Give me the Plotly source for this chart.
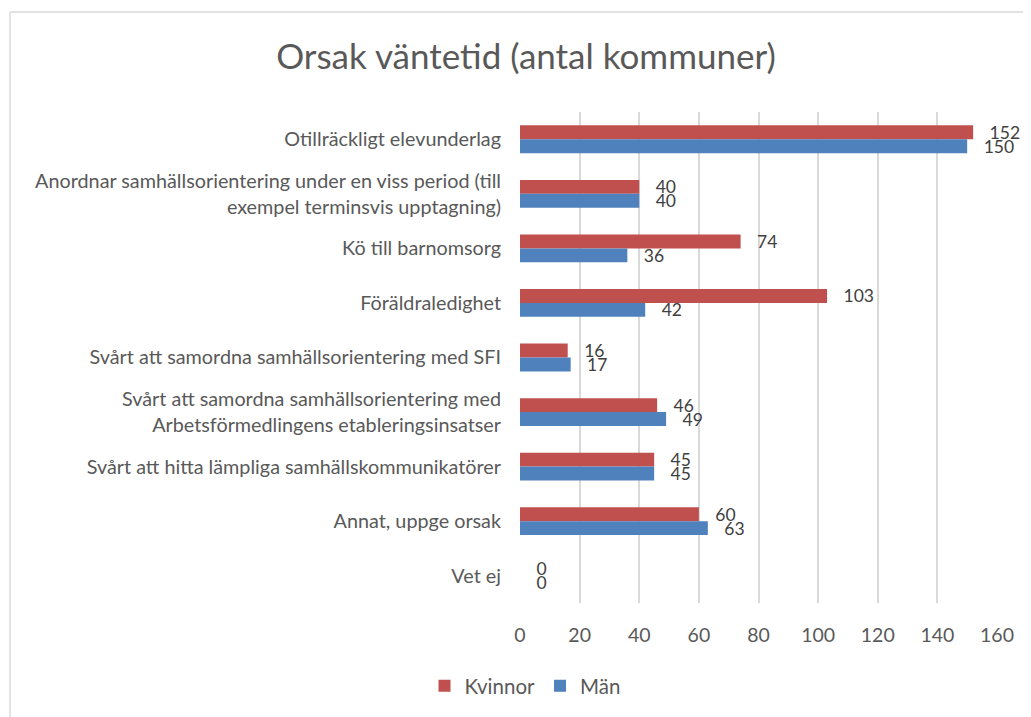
import plotly.graph_objects as go

categories = [
    "Otillräckligt elevunderlag",
    "Anordnar samhällsorientering under en viss period (till<br>exempel terminsvis upptagning)",
    "Kö till barnomsorg",
    "Föräldraledighet",
    "Svårt att samordna samhällsorientering med SFI",
    "Svårt att samordna samhällsorientering med<br>Arbetsförmedlingens etableringsinsatser",
    "Svårt att hitta lämpliga samhällskommunikatörer",
    "Annat, uppge orsak",
    "Vet ej",
]
kvinnor = [152, 40, 74, 103, 16, 46, 45, 60, 0]
man = [150, 40, 36, 42, 17, 49, 45, 63, 0]
x_ticks = [0, 20, 40, 60, 80, 100, 120, 140, 160]

FONT = "Lato"
GRAY = "#595959"
LABEL = "#404040"

# page body has an 8px margin; figure is sized/positioned to compensate
OFF = 8
W, H = 1031 - OFF, 717 - OFF
L, R, T, B = 520 - OFF, 34, 112 - OFF, 114
pw, ph = W - L - R, H - T - B

fig = go.Figure()
for name, vals, col in [("Kvinnor", kvinnor, "#C0504D"), ("Män", man, "#4F81BD")]:
    fig.add_trace(go.Bar(
        name=name, y=categories, x=vals, orientation="h",
        marker=dict(color=col, line=dict(width=0)),
        text=vals, texttemplate="   %{x}", textposition="outside",
        constraintext="none",
        textfont=dict(family=FONT, size=17.5, color=LABEL), cliponaxis=False,
    ))

def px_x(p):
    return (p - OFF - L) / pw

def px_y(p):
    return (H - B - (p - OFF)) / ph

fig.update_layout(
    width=W, height=H,
    margin=dict(l=L, r=R, t=T, b=B),
    paper_bgcolor="white", plot_bgcolor="white",
    barmode="group", bargap=0.49, bargroupgap=0,
    title=dict(text="Orsak väntetid (antal kommuner)", x=(526 - OFF) / W, xref="container",
               y=1 - (57 - OFF) / H, yref="container", xanchor="center", yanchor="middle",
               font=dict(family=FONT, size=35, color=GRAY)),
    font=dict(family=FONT, color=GRAY),
    legend=dict(orientation="h", x=(525 - OFF) / W, xref="container", xanchor="center",
                y=1 - (686 - OFF) / H, yref="container", yanchor="middle",
                font=dict(family=FONT, size=20.5, color=GRAY), traceorder="normal"),
    shapes=[
        dict(type="line", xref="paper", yref="paper", x0=px_x(10), x1=px_x(1030),
             y0=px_y(12), y1=px_y(12), line=dict(color="#d9d9d9", width=1.5)),
        dict(type="line", xref="paper", yref="paper", x0=px_x(10), x1=px_x(10),
             y0=px_y(12), y1=px_y(717), line=dict(color="#d9d9d9", width=1.5)),
    ],
)
fig.update_xaxes(range=[0, 160], tickvals=x_ticks, showgrid=True, gridcolor="#d9d9d9",
                 gridwidth=1.5, zeroline=False, showline=False,
                 tickfont=dict(family=FONT, size=19.5, color=GRAY), ticklabelstandoff=18)
fig.update_yaxes(autorange="reversed", showgrid=False, zeroline=False, showline=False,
                 tickfont=dict(family=FONT, size=19.8, color=GRAY), ticklabelstandoff=18)

fig.write_html("out.html")
